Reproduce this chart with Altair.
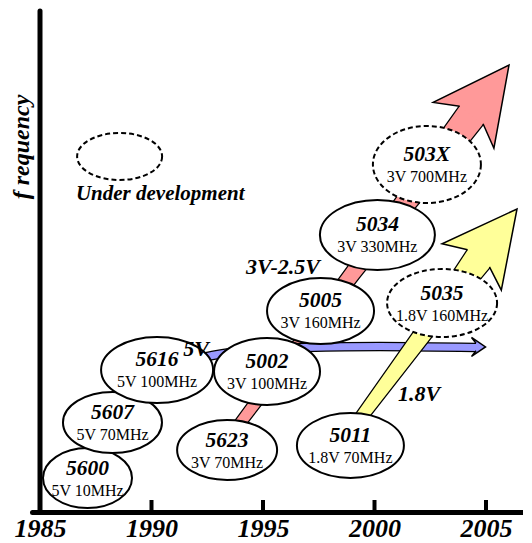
import altair as alt
import pandas as pd

# ---------------- data ----------------
chips = ["5600", "5607", "5616", "5002", "5623", "5011", "5005", "5034", "503X", "5035"]
specs = ["5V 10MHz", "5V 70MHz", "5V 100MHz", "3V 100MHz", "3V 70MHz", "1.8V 70MHz",
         "3V 160MHz", "3V 330MHz", "3V 700MHz", "1.8V 160MHz"]
chip_year = [1987.13, 1988.25, 1990.25, 1995.18, 1993.39, 1998.92, 1997.58, 2000.13, 2002.35, 2003.03]
chip_level = [6.77, 17.83, 28.29, 27.99, 12.35, 13.25, 40.04, 55.18, 69.22, 41.63]
chip_status = ["released", "released", "released", "released", "released", "released",
               "released", "released", "development", "development"]

legend_year = [1988.57]
legend_level = [70.82]
legend_text = ["Under development"]
legend_text_year = [1986.61]
legend_text_level = [62.15]

# 3V-2.5V path (pink), 1.8V path (yellow), 5V path (blue)
pink_year = [1993.744, 1999.031, 2001.489, 2003.170, 2004.350]
pink_level = [16.33, 47.61, 62.15, 72.11, 79.08]
pink_tip = (2006.031, 89.04)

yellow_year = [1999.040, 2002.233, 2003.798, 2004.677]
yellow_level = [16.73, 35.86, 45.22, 50.50]
yellow_tip = (2006.39, 60.36)

blue_year = [1992.175, 1992.848, 1993.969, 1995.314, 1996.883, 2000.247, 2004.552]
blue_level = [30.68, 31.27, 32.07, 32.57, 32.77, 32.97, 32.77]
blue_tip = (2004.978, 32.87)

arrow_labels = ["5V", "3V-2.5V", "1.8V"]
arrow_label_year = [1991.996, 1995.897, 2001.996]
arrow_label_level = [32.47, 48.80, 23.51]

tick_years = [1985, 1990, 1995, 2000, 2005]
inner_ticks = [1990, 1995, 2000, 2005]

# ---------------- styles ----------------
ell_rx = [44.5, 49.5, 56, 53, 50, 53.5, 53.5, 57.5, 54, 55]
ell_ry = [30, 30.5, 33, 33.5, 30, 32.5, 33, 35, 38.5, 34]
legend_rx, legend_ry = 42.5, 23.5
pink_width = [10, 15, 20.5, 27, 29.2]
yellow_width = [11, 17, 24, 27.8]
PINK, BLUE, YELLOW = "#ff9999", "#9999ff", "#ffff99"
TIMES = "Liberation Serif"

K = 0.5523


def ellipse_path(rx, ry):
    kx, ky = round(K * rx, 2), round(K * ry, 2)
    return (f"M{rx},0 C{rx},{ky} {kx},{ry} 0,{ry} C{-kx},{ry} {-rx},{ky} {-rx},0 "
            f"C{-rx},{-ky} {-kx},{-ry} 0,{-ry} C{kx},{-ry} {rx},{-ky} {rx},0 Z")


def head_path(length, half_w, notch_back, notch_half):
    return (f"M{-notch_half},{notch_back} L{-half_w},{length} L0,0 "
            f"L{half_w},{length} L{notch_half},{notch_back}")


X_SCALE = alt.Scale(domain=[1984.641, 2006.659], nice=False, zero=False)
Y_SCALE = alt.Scale(domain=[0, 100], nice=False, zero=False)

x_axis = alt.Axis(values=tick_years, title=None, grid=False, ticks=False, tickSize=0,
                  domain=True, domainColor="black", domainWidth=5, domainCap="round",
                  labelFont=TIMES, labelFontSize=26, labelFontStyle="italic",
                  labelFontWeight="bold", labelColor="black", labelBaseline="alphabetic",
                  labelPadding=24, labelFlush=False, labelOverlap=False, format="d")
y_axis = alt.Axis(title="f requency", grid=False, ticks=False, labels=False, domain=False,
                  titleFont=TIMES, titleFontSize=24, titleFontStyle="italic",
                  titleFontWeight="bold", titleColor="black", titleAngle=270,
                  titleX=-4, titleY=136.5, titleAlign="center", titleBaseline="alphabetic")


def X():
    return alt.X("year:Q", scale=X_SCALE, axis=x_axis)


def Y():
    return alt.Y("level:Q", scale=Y_SCALE, axis=y_axis)


# ---------------- tables ----------------
ell_df = pd.DataFrame({
    "year": chip_year, "level": chip_level, "chip": chips, "spec": specs,
    "status": chip_status,
    "path": [ellipse_path(a, b) for a, b in zip(ell_rx, ell_ry)],
})
solid_df = ell_df[ell_df.status == "released"]
dash_df = ell_df[ell_df.status == "development"]
legend_df = pd.DataFrame({"year": legend_year, "level": legend_level,
                          "path": [ellipse_path(legend_rx, legend_ry)]})
legend_txt_df = pd.DataFrame({"year": legend_text_year, "level": legend_text_level,
                              "t": legend_text})

pink_df = pd.DataFrame({"year": pink_year, "level": pink_level, "w": pink_width,
                        "idx": range(len(pink_year))})
pink_df["wo"] = pink_df["w"] + 2.5
yellow_df = pd.DataFrame({"year": yellow_year, "level": yellow_level, "w": yellow_width,
                          "idx": range(len(yellow_year))})
yellow_df["wo"] = yellow_df["w"] + 2.5
blue_df = pd.DataFrame({"year": blue_year, "level": blue_level, "idx": range(len(blue_year))})

lab_df = pd.DataFrame({"year": arrow_label_year, "level": arrow_label_level, "t": arrow_labels})
yrule_df = pd.DataFrame({"year": [1985], "level": [0], "level2": [99.8]})
tick_df = pd.DataFrame({"year": inner_ticks, "level": [0] * len(inner_ticks)})


def trail(df, col, wcol):
    return alt.Chart(df).mark_trail(color=col, opacity=1).encode(
        x=X(), y=Y(), order="idx:Q",
        size=alt.Size(f"{wcol}:Q", scale=None, legend=None))


def head(tip, path, col, angle):
    d = pd.DataFrame({"year": [tip[0]], "level": [tip[1]]})
    return alt.Chart(d).mark_point(shape=path, size=4, filled=True, fill=col, stroke="black",
                                   strokeWidth=1.5, opacity=1, angle=angle,
                                   strokeJoin="miter").encode(x=X(), y=Y())


pink_layers = [trail(pink_df, "black", "wo"), trail(pink_df, PINK, "w")]
blue_layers = [
    alt.Chart(blue_df).mark_line(color="black", strokeWidth=9.5, interpolate="monotone",
                                 strokeCap="butt").encode(x=X(), y=Y(), order="idx:Q"),
    alt.Chart(blue_df).mark_line(color=BLUE, strokeWidth=7, interpolate="monotone",
                                 strokeCap="butt").encode(x=X(), y=Y(), order="idx:Q"),
]
yellow_layers = [trail(yellow_df, "black", "wo"), trail(yellow_df, YELLOW, "w")]
heads = [
    head(pink_tip, head_path(75.5, 38, 62.5, 14.6), PINK, 37),
    head(yellow_tip, head_path(73.6, 37.6, 62.5, 13.9), YELLOW, 38),
    head(blue_tip, head_path(14, 9.5, 9.5, 3.8), BLUE, 90),
]

solid_ell = alt.Chart(solid_df).mark_point(filled=True, fill="white", stroke="black",
                                           strokeWidth=2, opacity=1).encode(
    x=X(), y=Y(), shape=alt.Shape("path:N", scale=None, legend=None), size=alt.value(4))
dash_ell = alt.Chart(dash_df).mark_point(filled=True, fill="white", stroke="black",
                                         strokeWidth=2, strokeDash=[5, 3], opacity=1).encode(
    x=X(), y=Y(), shape=alt.Shape("path:N", scale=None, legend=None), size=alt.value(4))
legend_ell = alt.Chart(legend_df).mark_point(filled=True, fill="white", stroke="black",
                                             strokeWidth=2, strokeDash=[5, 3], opacity=1).encode(
    x=X(), y=Y(), shape=alt.Shape("path:N", scale=None, legend=None), size=alt.value(4))

name_txt = alt.Chart(ell_df).mark_text(font=TIMES, fontSize=21.5, fontStyle="italic",
                                       fontWeight="bold", color="black", baseline="middle",
                                       dy=-9.5).encode(x=X(), y=Y(), text="chip:N")
spec_txt = alt.Chart(ell_df).mark_text(font=TIMES, fontSize=16, color="black",
                                       baseline="middle", dy=12.5).encode(
    x=X(), y=Y(), text="spec:N")
legend_txt = alt.Chart(legend_txt_df).mark_text(font=TIMES, fontSize=21, fontStyle="italic",
                                                fontWeight="bold", color="black", align="left",
                                                baseline="alphabetic").encode(
    x=X(), y=Y(), text="t:N")
arrow_txt = alt.Chart(lab_df).mark_text(font=TIMES, fontSize=22, fontStyle="italic",
                                        fontWeight="bold", color="black",
                                        baseline="middle").encode(x=X(), y=Y(), text="t:N")

yrule = alt.Chart(yrule_df).mark_rule(color="black", strokeWidth=5, strokeCap="round").encode(
    x=X(), y=Y(), y2="level2:Q")
ticks = alt.Chart(tick_df).mark_tick(orient="vertical", size=12, thickness=4, yOffset=-6,
                                     color="black", opacity=1, filled=True).encode(x=X(), y=Y())

chart = alt.layer(
    *pink_layers, *blue_layers, *yellow_layers, *heads,
    solid_ell, dash_ell, legend_ell,
    name_txt, spec_txt, legend_txt, arrow_txt,
    ticks, yrule,
).properties(
    width=491, height=502,
    padding={"left": 24, "top": 2, "right": 0, "bottom": 30},
    autosize=alt.AutoSizeParams(type="none"),
    background="white",
).configure_view(stroke=None)

chart.save("out.html", embed_options={"renderer": "svg", "actions": False})
